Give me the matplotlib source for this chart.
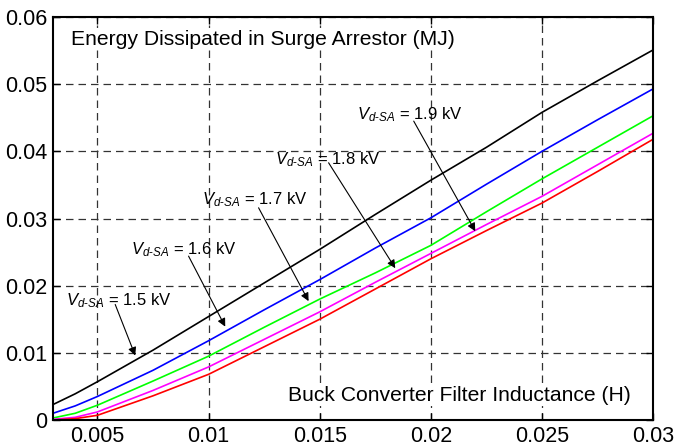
import matplotlib
matplotlib.use("Agg")
from matplotlib import pyplot as plt

plt.rcParams['font.family'] = ['Liberation Sans', 'DejaVu Sans']
plt.rcParams['mathtext.fontset'] = 'custom'
plt.rcParams['mathtext.rm'] = 'Liberation Sans'
plt.rcParams['mathtext.it'] = 'Liberation Sans:italic'

# inductance (H)
L = [0.003, 0.004, 0.005, 0.0075, 0.01, 0.0125, 0.015, 0.0175, 0.02, 0.0225, 0.025, 0.0275, 0.03]
# energy (MJ) for each V_d-SA
e15 = [0.0023, 0.0039, 0.0057, 0.0104, 0.0154, 0.0204, 0.0254, 0.0306, 0.0357, 0.0406, 0.0458, 0.0505, 0.0551]
e16 = [0.0010, 0.0021, 0.0035, 0.0074, 0.0118, 0.0164, 0.0209, 0.0256, 0.0301, 0.0351, 0.0400, 0.0447, 0.0493]
e17 = [0.0003, 0.0010, 0.0022, 0.0058, 0.0095, 0.0138, 0.0180, 0.0219, 0.0260, 0.0310, 0.0359, 0.0406, 0.0453]
e18 = [0.0001, 0.0004, 0.0012, 0.0044, 0.0079, 0.0120, 0.0161, 0.0205, 0.0248, 0.0291, 0.0333, 0.0380, 0.0427]
e19 = [0.0000, 0.0002, 0.0007, 0.0036, 0.0068, 0.0109, 0.0150, 0.0195, 0.0240, 0.0282, 0.0323, 0.0370, 0.0418]

series = [e15, e16, e17, e18, e19]
colors = ['#000000', '#0000ff', '#00ff00', '#ff00ff', '#ff0000']
labels = ['1.5', '1.6', '1.7', '1.8', '1.9']

# label text position, arrow start, arrow tip
txt_pos = [(0.0036, 0.0178), (0.00653, 0.0254), (0.00969, 0.0328), (0.0130, 0.0388), (0.01667, 0.0455)]
arr_from = [(0.0058, 0.0172), (0.0091, 0.0244), (0.01225, 0.0316), (0.0154, 0.0383), (0.01923, 0.0445)]
arr_to = [(0.0067, 0.0096), (0.01075, 0.0139), (0.0145, 0.0177), (0.0184, 0.0226), (0.0220, 0.0281)]

fig = plt.figure(figsize=(6.74, 4.48), dpi=100)
ax = fig.add_axes([0.0786, 0.0625, 0.8904, 0.8995])

for y, c in zip(series, colors):
    ax.plot(L, y, color=c, lw=1.2)

ax.set_xlim(0.003, 0.03)
ax.set_ylim(0, 0.06)
ax.set_xticks([0.005, 0.01, 0.015, 0.02, 0.025, 0.03])
ax.set_xticklabels(['0.005', '0.01', '0.015', '0.02', '0.025', '0.03'])
ax.set_yticks([0, 0.01, 0.02, 0.03, 0.04, 0.05, 0.06])
ax.set_yticklabels(['0', '0.01', '0.02', '0.03', '0.04', '0.05', '0.06'])
ax.tick_params(direction='in', length=5, width=1, top=True, right=True, labelsize=15.5, pad=4)
ax.grid(True, color='#333333', linestyle=(0, (6, 4)), lw=0.9)
for s in ax.spines.values():
    s.set_linewidth(1.5)

for lab, tp, af, at in zip(labels, txt_pos, arr_from, arr_to):
    ax.text(tp[0], tp[1], r'$V_{d\text{-}SA}$ = ' + lab + ' kV', fontsize=12, va='center', ha='left')
    ax.annotate('', xy=at, xytext=af,
                arrowprops=dict(arrowstyle='-|>', color='k', lw=0.8, mutation_scale=12, shrinkA=0, shrinkB=0))

ax.text(0.00383, 0.0567, 'Energy Dissipated in Surge Arrestor (MJ)', fontsize=15.2, va='center', ha='left',
        bbox=dict(facecolor='white', edgecolor='none', pad=1))
ax.text(0.0290, 0.0037, 'Buck Converter Filter Inductance (H)', fontsize=15.2, va='center', ha='right',
        bbox=dict(facecolor='white', edgecolor='none', pad=1))

fig.savefig('out.png', dpi=100)
